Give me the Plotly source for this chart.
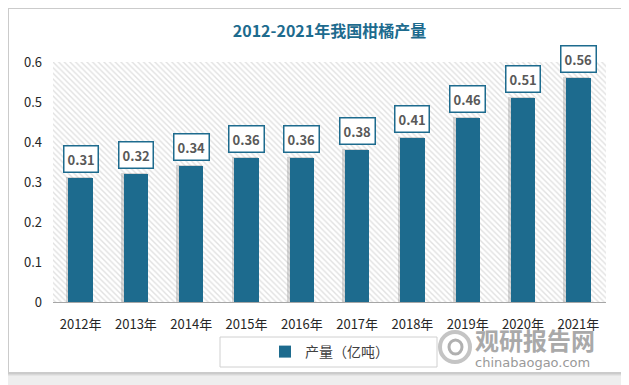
import plotly.graph_objects as go

years = ["2012年", "2013年", "2014年", "2015年", "2016年", "2017年", "2018年", "2019年", "2020年", "2021年"]
values = [0.31, 0.32, 0.34, 0.36, 0.36, 0.38, 0.41, 0.46, 0.51, 0.56]
series_name = "产量（亿吨）"
title = "2012-2021年我国柑橘产量"
y_max = 0.6

BAR = "#1d6b8e"
FONT = "Noto Sans CJK SC, Noto Sans, sans-serif"
idx = list(range(len(years)))

# page offset (body margin) -> figure pixel = screen pixel - 8
OFF = 8
W, H = 629 - OFF, 385 - OFF
PL, PR, PT, PB = 53, 606, 62, 302  # plot area in screen px


def px(X):
    return (X - PL) / (PR - PL)


def py(Y):
    return (PB - Y) / (PB - PT)


fig = go.Figure()

# hatched plot-area background
fig.add_trace(go.Bar(
    x=[(len(years) - 1) / 2], y=[y_max], width=[len(years)],
    marker=dict(color="white", line=dict(width=0),
                pattern=dict(shape="\\", fgcolor="#c4c4c4", bgcolor="white", size=4, solidity=0.35)),
    hoverinfo="skip", showlegend=False))

# bar shadows
fig.add_trace(go.Bar(
    x=[i - 0.035 for i in idx], y=[v + 0.003 for v in values], width=0.47,
    marker=dict(color="rgba(110,110,110,0.26)", line=dict(width=0)),
    hoverinfo="skip", showlegend=False))

fig.add_trace(go.Bar(
    x=idx, y=values, width=0.44, name=series_name,
    marker=dict(color=BAR, line=dict(width=0))))

for i, v in zip(idx, values):
    fig.add_annotation(
        x=i, y=v, text=f"{v:.2f}", showarrow=False, yanchor="bottom", yshift=5,
        font=dict(family=FONT, size=13, color="#595959", weight="bold"),
        bgcolor="white", bordercolor=BAR, borderwidth=1.5, borderpad=3)

# card background and shadow
for k, c in enumerate(["rgba(0,0,0,0.04)", "rgba(0,0,0,0.05)", "rgba(0,0,0,0.06)"]):
    d = 3 - k
    fig.add_shape(type="rect", xref="paper", yref="paper", layer="below",
                  x0=px(9 - d), x1=px(622 + d), y0=py(372 + d + 1), y1=py(9 - d),
                  fillcolor=c, line=dict(width=0))
fig.add_shape(type="rect", xref="paper", yref="paper", layer="below",
              x0=px(9), x1=px(622), y0=py(372), y1=py(9),
              fillcolor="white", line=dict(width=0))

# legend frame
fig.add_shape(type="rect", xref="paper", yref="paper",
              x0=px(220), x1=px(437), y0=py(367), y1=py(337),
              fillcolor="rgba(0,0,0,0)", line=dict(color="#d0d0d0", width=1))

# watermark
fig.add_annotation(xref="paper", yref="paper", x=px(535), y=py(339),
                   xanchor="center", yanchor="middle",
                   text="<b>观研报告网</b>", showarrow=False,
                   font=dict(family=FONT, size=24, color="#a9a9a9"))
fig.add_annotation(xref="paper", yref="paper", x=px(532), y=py(362),
                   xanchor="center", yanchor="middle",
                   text="chinabaogao.com", showarrow=False,
                   font=dict(family="DejaVu Sans, sans-serif", size=13, color="#999999"))
fig.add_shape(type="circle", xref="paper", yref="paper",
              x0=px(440), x1=px(470), y0=py(362), y1=py(332),
              line=dict(color="#c4c4c4", width=4))
fig.add_shape(type="circle", xref="paper", yref="paper",
              x0=px(449), x1=px(462), y0=py(354), y1=py(340),
              line=dict(color="#b0b0b0", width=3))

fig.update_layout(
    width=W, height=H,
    margin=dict(l=PL - OFF, r=W - (PR - OFF), t=PT - OFF, b=H - (PB - OFF)),
    paper_bgcolor="#eeeeee", plot_bgcolor="rgba(0,0,0,0)",
    barmode="overlay", bargap=0,
    title=dict(text=f"<b>{title}</b>", x=0.5, xref="paper", y=1 - (31 - OFF) / H, yanchor="middle",
               font=dict(family=FONT, size=16, color=BAR)),
    font=dict(family=FONT, size=13, color="#404040"),
    showlegend=True,
    legend=dict(orientation="h", x=0.5, xanchor="center", y=py(352), yanchor="middle",
                bgcolor="rgba(0,0,0,0)", font=dict(size=14, color="#404040"),
                itemwidth=30),
    xaxis=dict(range=[-0.5, len(years) - 0.5], tickvals=idx, ticktext=years,
               showgrid=False, zeroline=False, showline=True, linecolor="#a6a6a6", linewidth=1,
               ticks="", ticklabelstandoff=10, tickfont=dict(size=13, color="#262626")),
    yaxis=dict(range=[0, y_max], dtick=0.1, showgrid=False, zeroline=False, showline=False,
               ticks="", ticklabelstandoff=10, tickfont=dict(size=13, color="#262626")),
)

fig.write_html("out.html")
